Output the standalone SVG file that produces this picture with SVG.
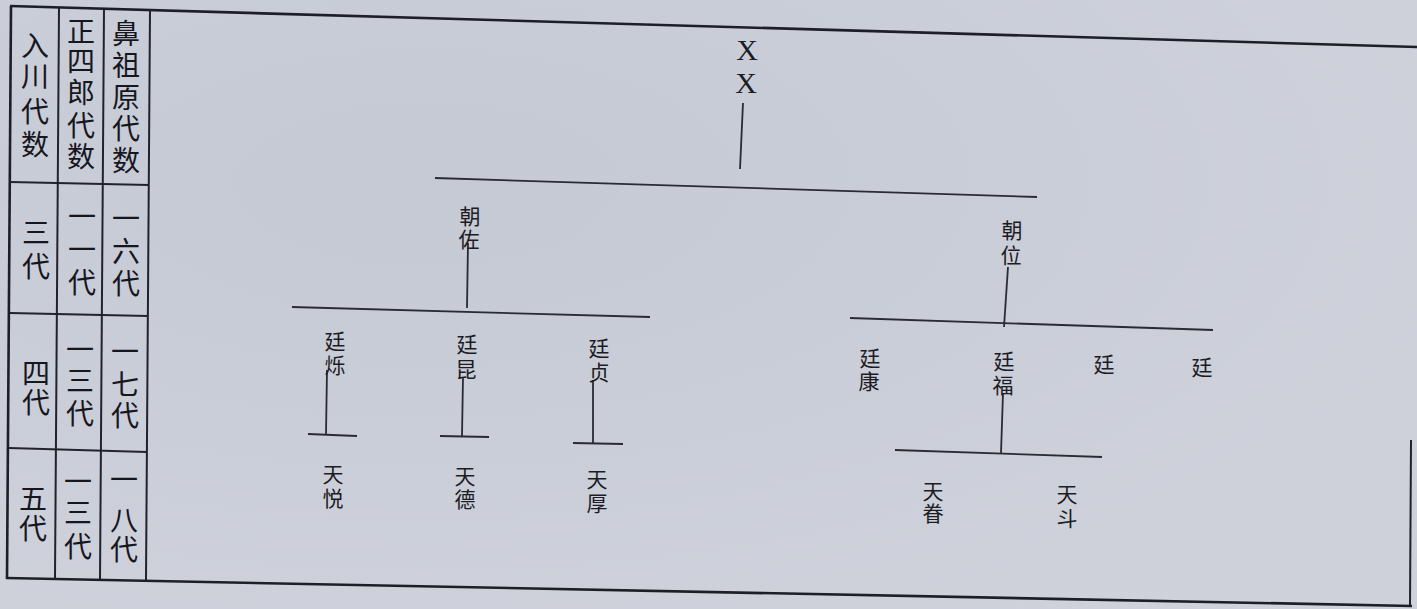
<svg xmlns="http://www.w3.org/2000/svg" width="1417" height="609" viewBox="0 0 1417 609">
<style>
.bg{fill:#cbcfd9}
.frame{stroke:#1e1e28;stroke-width:2.6;fill:none}
.grid{stroke:#22222c;stroke-width:2;fill:none}
.con{stroke:#2a2a34;stroke-width:1.8;fill:none}
.h{font-family:"Noto Sans CJK SC","Noto Sans CJK JP",sans-serif;font-size:28px;fill:#16161e;text-anchor:middle;dominant-baseline:central}
.n{font-family:"Noto Sans CJK SC","Noto Sans CJK JP",sans-serif;font-size:21px;fill:#1c1c24;text-anchor:middle;dominant-baseline:central}
.x{font-family:"Liberation Serif",serif;font-size:30px;fill:#1c1c24;text-anchor:middle;dominant-baseline:central}
</style>
<defs>
<radialGradient id="shade" cx="0.3" cy="0.3" r="0.8">
<stop offset="0" stop-color="#c3c7d2"/>
<stop offset="1" stop-color="#d0d3dc"/>
</radialGradient>
</defs>
<rect class="bg" x="0" y="0" width="1417" height="609"/>
<rect x="0" y="0" width="1417" height="609" fill="url(#shade)" opacity="0.7"/>

<g id="frame">
<line class="frame" x1="10" y1="6" x2="1417" y2="47"/>
<line class="frame" x1="11" y1="6" x2="7" y2="579"/>
<line class="frame" x1="6" y1="578" x2="1412" y2="606"/>
<line class="grid" x1="1411" y1="440" x2="1410" y2="606"/>
<line class="grid" x1="59" y1="8" x2="55" y2="578"/>
<line class="grid" x1="104" y1="9" x2="100" y2="579"/>
<line class="grid" x1="150" y1="10" x2="146" y2="580"/>
<line class="grid" x1="10" y1="182" x2="149" y2="185"/>
<line class="grid" x1="10" y1="313" x2="148" y2="316"/>
<line class="grid" x1="9" y1="448" x2="147" y2="452"/>
</g>

<g id="table-header">
<text class="h" x="35" y="44">入</text><text class="h" x="35" y="75">川</text><text class="h" x="35" y="110">代</text><text class="h" x="35" y="143">数</text>
<text class="h" x="81" y="30">正</text><text class="h" x="81" y="60">四</text><text class="h" x="81" y="91">郎</text><text class="h" x="81" y="124">代</text><text class="h" x="81" y="155">数</text>
<text class="h" x="126" y="32">鼻</text><text class="h" x="126" y="64">祖</text><text class="h" x="126" y="96">原</text><text class="h" x="126" y="127">代</text><text class="h" x="126" y="159">数</text>
</g>
<g id="row-3">
<text class="h" x="36" y="231">三</text><text class="h" x="36" y="265">代</text>
<text class="h" x="82" y="215">一</text><text class="h" x="82" y="248">一</text><text class="h" x="82" y="281">代</text>
<text class="h" x="126" y="217">一</text><text class="h" x="126" y="250">六</text><text class="h" x="126" y="282">代</text>
</g>
<g id="row-4">
<text class="h" x="36" y="372">四</text><text class="h" x="36" y="401">代</text>
<text class="h" x="80" y="348">一</text><text class="h" x="80" y="379">三</text><text class="h" x="80" y="412">代</text>
<text class="h" x="125" y="350">一</text><text class="h" x="125" y="383">七</text><text class="h" x="125" y="414">代</text>
</g>
<g id="row-5">
<text class="h" x="33" y="497">五</text><text class="h" x="33" y="527">代</text>
<text class="h" x="78" y="480">一</text><text class="h" x="78" y="511">三</text><text class="h" x="78" y="545">代</text>
<text class="h" x="124" y="478">一</text><text class="h" x="124" y="519">八</text><text class="h" x="124" y="548">代</text>
</g>

<g id="connectors">
<line class="con" x1="743" y1="103" x2="740" y2="169"/>
<line class="con" x1="435" y1="178" x2="1037" y2="197"/>
<line class="con" x1="468" y1="243" x2="467" y2="308"/>
<line class="con" x1="292" y1="307" x2="650" y2="317"/>
<line class="con" x1="327" y1="370" x2="326" y2="434"/>
<line class="con" x1="308" y1="434" x2="357" y2="436"/>
<line class="con" x1="463" y1="377" x2="462" y2="436"/>
<line class="con" x1="440" y1="436" x2="489" y2="437"/>
<line class="con" x1="593" y1="380" x2="593" y2="443"/>
<line class="con" x1="573" y1="443" x2="623" y2="444"/>
<line class="con" x1="1008" y1="267" x2="1004" y2="327"/>
<line class="con" x1="850" y1="318" x2="1213" y2="330"/>
<line class="con" x1="1003" y1="393" x2="1001" y2="453"/>
<line class="con" x1="895" y1="450" x2="1102" y2="457"/>
</g>

<g id="node-xx"><text class="x" x="747" y="49">X</text><text class="x" x="746" y="82">X</text></g>
<g id="node-chaozuo"><text class="n" x="470" y="215">朝</text><text class="n" x="469" y="238">佐</text></g>
<g id="node-chaowei"><text class="n" x="1012" y="229">朝</text><text class="n" x="1011" y="254">位</text></g>
<g id="node-tingshuo"><text class="n" x="335" y="340">廷</text><text class="n" x="335" y="364">烁</text></g>
<g id="node-tingkun"><text class="n" x="467" y="343">廷</text><text class="n" x="466" y="368">昆</text></g>
<g id="node-tingzhen"><text class="n" x="599" y="347">廷</text><text class="n" x="599" y="371">贞</text></g>
<g id="node-tingkang"><text class="n" x="870" y="357">廷</text><text class="n" x="869" y="380">康</text></g>
<g id="node-tingfu"><text class="n" x="1004" y="360">廷</text><text class="n" x="1003" y="384">福</text></g>
<g id="node-ting3"><text class="n" x="1104" y="363">廷</text></g>
<g id="node-ting4"><text class="n" x="1202" y="366">廷</text></g>
<g id="node-tianyue"><text class="n" x="333" y="473">天</text><text class="n" x="333" y="497">悦</text></g>
<g id="node-tiande"><text class="n" x="465" y="475">天</text><text class="n" x="465" y="498">德</text></g>
<g id="node-tianhou"><text class="n" x="597" y="478">天</text><text class="n" x="597" y="502">厚</text></g>
<g id="node-tianjuan"><text class="n" x="933" y="490">天</text><text class="n" x="933" y="512">眷</text></g>
<g id="node-tiandou"><text class="n" x="1067" y="493">天</text><text class="n" x="1067" y="517">斗</text></g>
</svg>
